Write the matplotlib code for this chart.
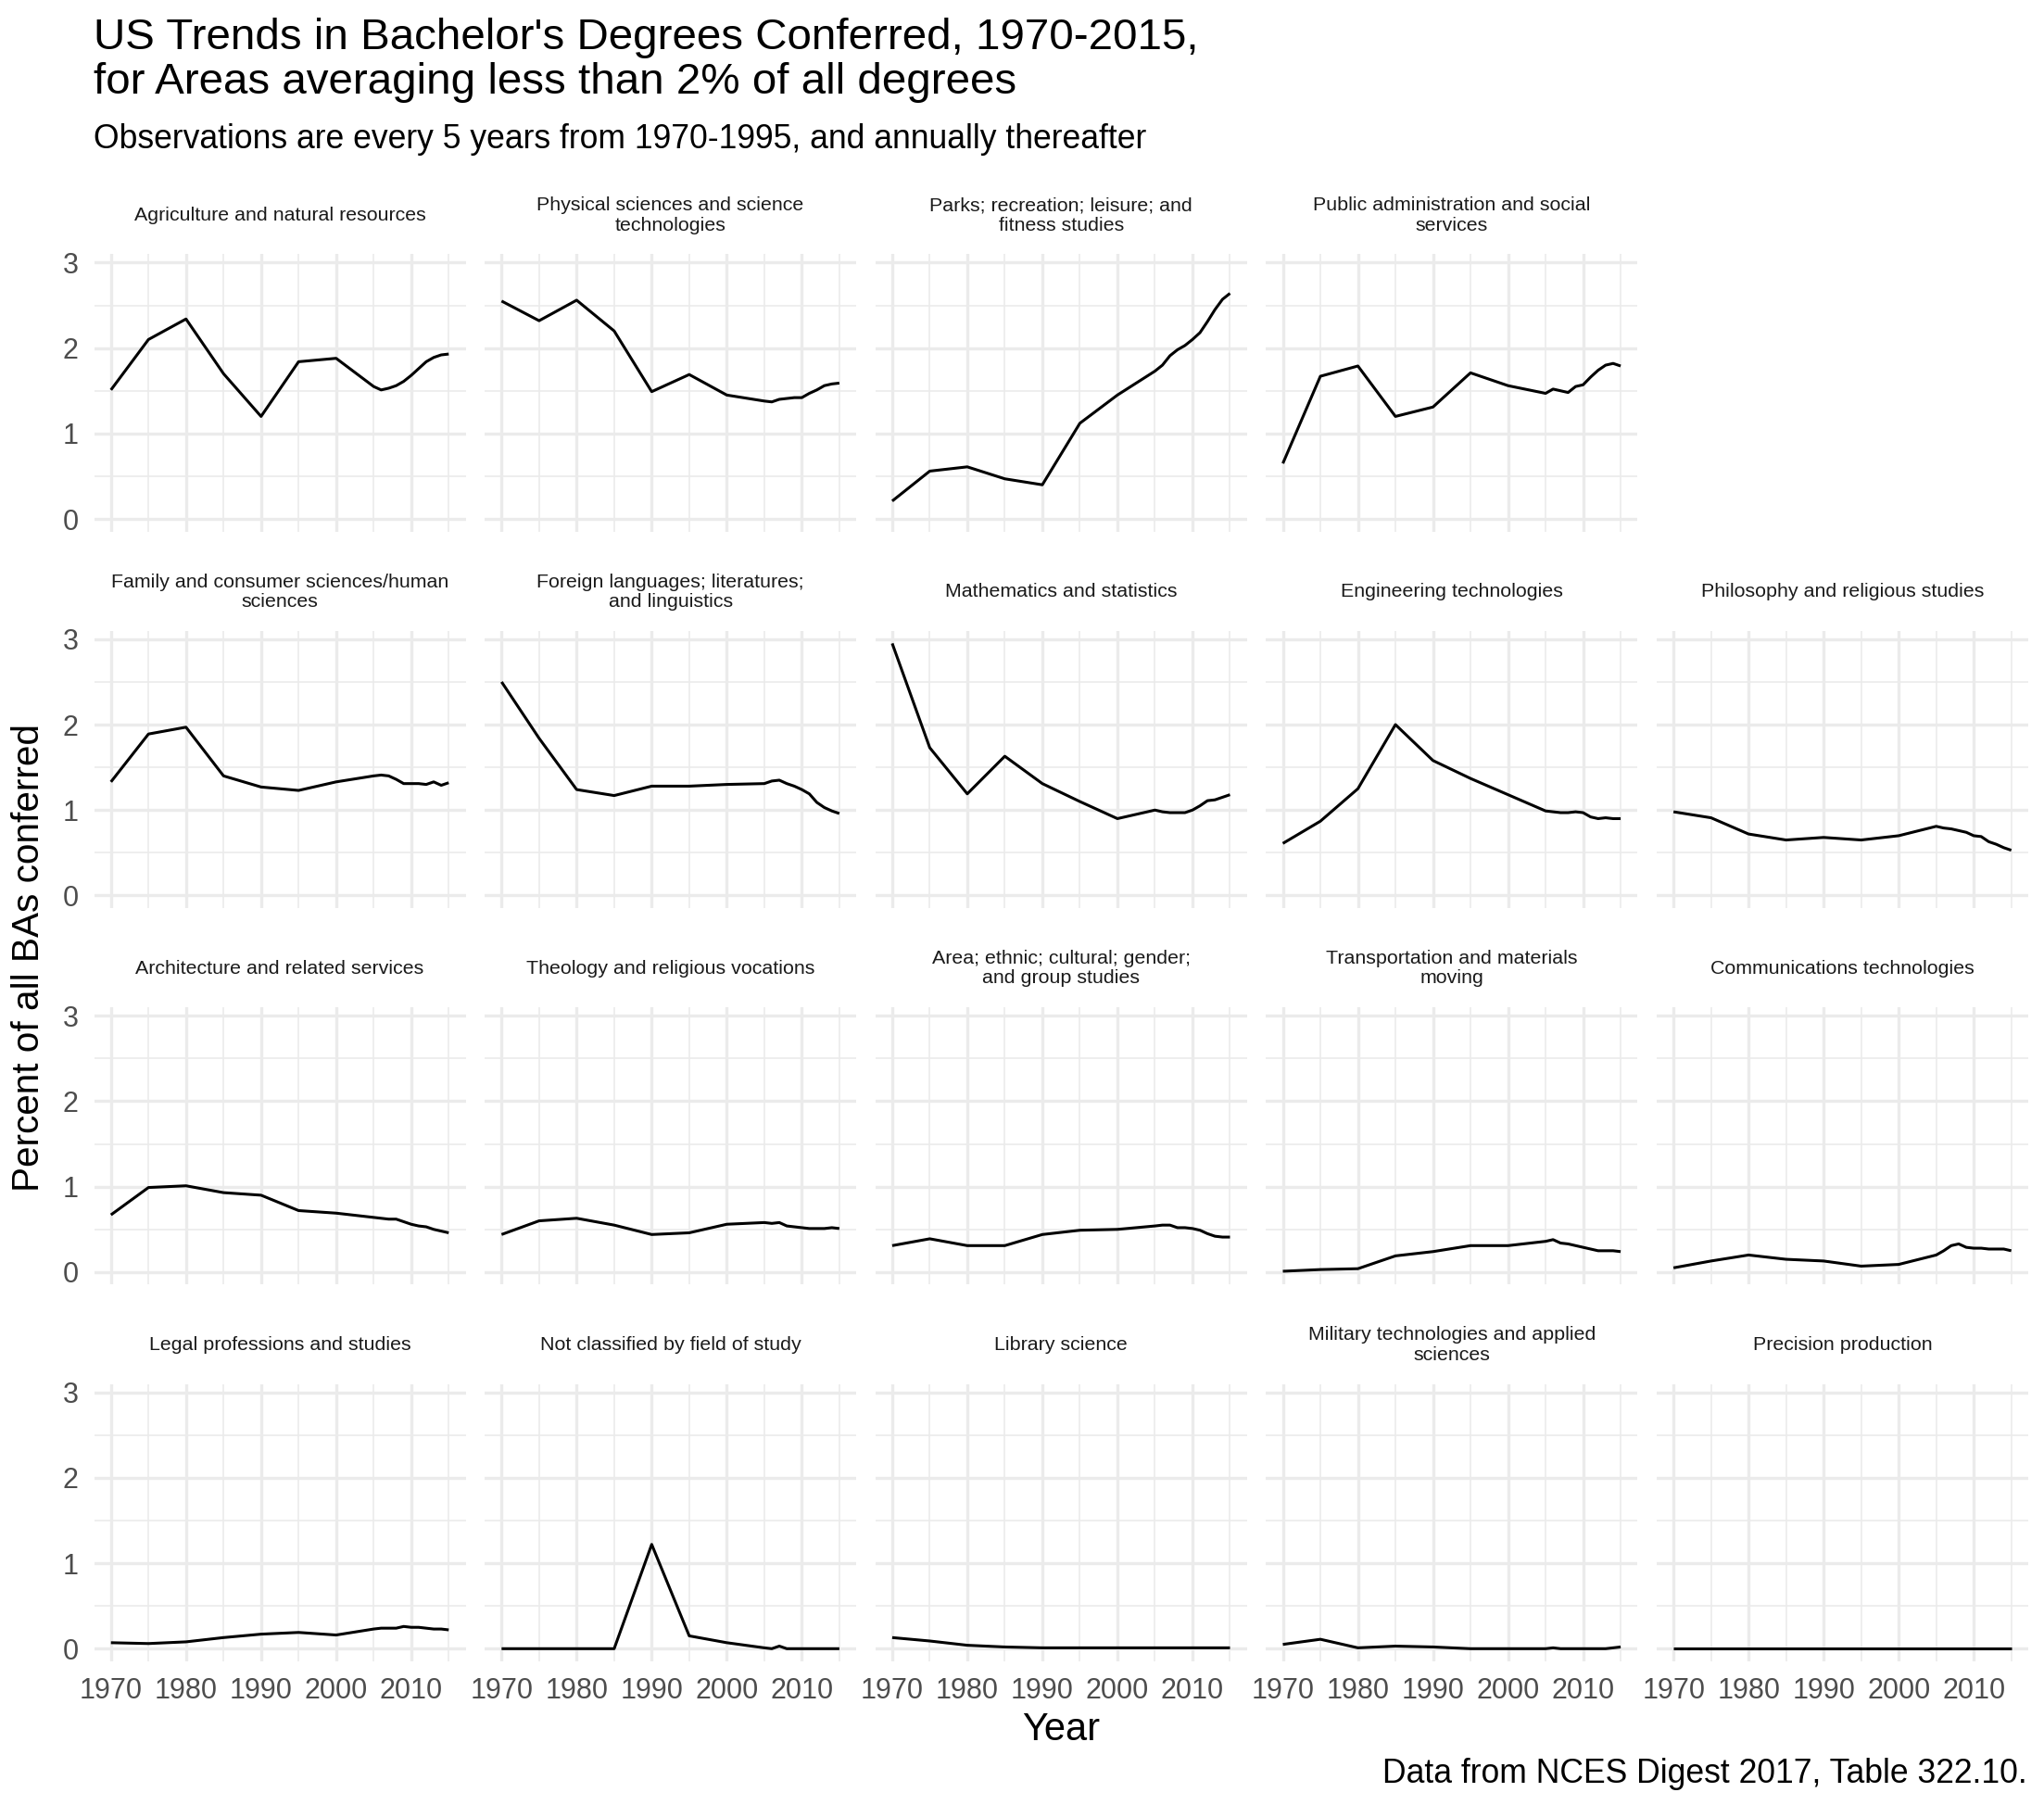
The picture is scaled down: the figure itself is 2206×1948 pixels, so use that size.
import matplotlib.pyplot as plt
from matplotlib.ticker import MultipleLocator

plt.rcParams['font.family'] = ['Liberation Sans', 'DejaVu Sans']

# observation years (5-yearly to 1995, then 2000 and annual from 2005)
years = [1970, 1975, 1980, 1985, 1990, 1995, 2000, 2005, 2006, 2007,
         2008, 2009, 2010, 2011, 2012, 2013, 2014, 2015]

# percent of all bachelor's degrees
agriculture = [1.51, 2.10, 2.34, 1.70, 1.20, 1.84, 1.88, 1.55, 1.51, 1.53,
               1.56, 1.61, 1.68, 1.76, 1.84, 1.89, 1.92, 1.93]
physical_sci = [2.55, 2.32, 2.56, 2.20, 1.49, 1.69, 1.45, 1.38, 1.37, 1.40,
                1.41, 1.42, 1.42, 1.47, 1.51, 1.56, 1.58, 1.59]
parks_rec = [0.21, 0.56, 0.61, 0.47, 0.40, 1.12, 1.45, 1.73, 1.80, 1.91,
             1.98, 2.03, 2.10, 2.18, 2.31, 2.45, 2.57, 2.64]
public_admin = [0.65, 1.67, 1.79, 1.20, 1.31, 1.71, 1.56, 1.47, 1.52, 1.50,
                1.48, 1.55, 1.57, 1.66, 1.74, 1.80, 1.82, 1.79]
family_consumer = [1.33, 1.89, 1.97, 1.40, 1.27, 1.23, 1.33, 1.40, 1.41, 1.40,
                   1.36, 1.31, 1.31, 1.31, 1.30, 1.33, 1.29, 1.32]
foreign_lang = [2.50, 1.84, 1.24, 1.17, 1.28, 1.28, 1.30, 1.31, 1.34, 1.35,
                1.31, 1.28, 1.24, 1.19, 1.09, 1.03, 0.99, 0.96]
math_stats = [2.95, 1.73, 1.19, 1.63, 1.31, 1.10, 0.90, 1.00, 0.98, 0.97,
              0.97, 0.97, 1.00, 1.05, 1.11, 1.12, 1.15, 1.18]
engineering_tech = [0.61, 0.87, 1.25, 2.00, 1.58, 1.37, 1.18, 0.99, 0.98, 0.97,
                    0.97, 0.98, 0.97, 0.92, 0.90, 0.91, 0.90, 0.90]
philosophy = [0.98, 0.91, 0.72, 0.65, 0.68, 0.65, 0.70, 0.81, 0.79, 0.78,
              0.76, 0.74, 0.70, 0.69, 0.63, 0.60, 0.56, 0.53]
architecture = [0.67, 0.99, 1.01, 0.93, 0.90, 0.72, 0.69, 0.64, 0.63, 0.62,
                0.62, 0.59, 0.56, 0.54, 0.53, 0.50, 0.48, 0.46]
theology = [0.44, 0.60, 0.63, 0.55, 0.44, 0.46, 0.56, 0.58, 0.57, 0.58,
            0.54, 0.53, 0.52, 0.51, 0.51, 0.51, 0.52, 0.51]
area_ethnic = [0.31, 0.39, 0.31, 0.31, 0.44, 0.49, 0.50, 0.54, 0.55, 0.55,
               0.52, 0.52, 0.51, 0.49, 0.45, 0.42, 0.41, 0.41]
transportation = [0.01, 0.03, 0.04, 0.19, 0.24, 0.31, 0.31, 0.36, 0.38, 0.34,
                  0.33, 0.31, 0.29, 0.27, 0.25, 0.25, 0.25, 0.24]
comm_tech = [0.05, 0.13, 0.20, 0.15, 0.13, 0.07, 0.09, 0.20, 0.25, 0.31,
             0.33, 0.29, 0.28, 0.28, 0.27, 0.27, 0.27, 0.25]
legal = [0.07, 0.06, 0.08, 0.13, 0.17, 0.19, 0.16, 0.23, 0.24, 0.24,
         0.24, 0.26, 0.25, 0.25, 0.24, 0.23, 0.23, 0.22]
not_classified = [0.00, 0.00, 0.00, 0.00, 1.22, 0.15, 0.07, 0.01, 0.00, 0.03,
                  0.00, 0.00, 0.00, 0.00, 0.00, 0.00, 0.00, 0.00]
library = [0.13, 0.09, 0.04, 0.02, 0.01, 0.01, 0.01, 0.01, 0.01, 0.01,
           0.01, 0.01, 0.01, 0.01, 0.01, 0.01, 0.01, 0.01]
military = [0.05, 0.11, 0.01, 0.03, 0.02, 0.00, 0.00, 0.00, 0.01, 0.00,
            0.00, 0.00, 0.00, 0.00, 0.00, 0.00, 0.01, 0.02]
precision = [0.00, 0.00, 0.00, 0.00, 0.00, 0.00, 0.00, 0.00, 0.00, 0.00,
             0.00, 0.00, 0.00, 0.00, 0.00, 0.00, 0.00, 0.00]

# facet labels and layout, row by row (None = empty slot)
facets = [
    [("Agriculture and natural resources", agriculture),
     ("Physical sciences and science\ntechnologies", physical_sci),
     ("Parks; recreation; leisure; and\nfitness studies", parks_rec),
     ("Public administration and social\nservices", public_admin),
     None],
    [("Family and consumer sciences/human\nsciences", family_consumer),
     ("Foreign languages; literatures;\nand linguistics", foreign_lang),
     ("Mathematics and statistics", math_stats),
     ("Engineering technologies", engineering_tech),
     ("Philosophy and religious studies", philosophy)],
    [("Architecture and related services", architecture),
     ("Theology and religious vocations", theology),
     ("Area; ethnic; cultural; gender;\nand group studies", area_ethnic),
     ("Transportation and materials\nmoving", transportation),
     ("Communications technologies", comm_tech)],
    [("Legal professions and studies", legal),
     ("Not classified by field of study", not_classified),
     ("Library science", library),
     ("Military technologies and applied\nsciences", military),
     ("Precision production", precision)],
]

x_ticks = [1970, 1980, 1990, 2000, 2010]
y_ticks = [0, 1, 2, 3]

W, H = 2206, 1948
fig = plt.figure(figsize=(W / 200, H / 200), dpi=200)

PW, PH = 401, 299.3
GRID = '#EBEBEB'


def panel_rect(row, col):
    left = 101.5 + col * 421.6
    top = 274.4 + row * 406.4
    return [left / W, 1 - (top + PH) / H, PW / W, PH / H]


for r, row in enumerate(facets):
    for c, item in enumerate(row):
        if item is None:
            continue
        label, vals = item
        ax = fig.add_axes(panel_rect(r, c))
        ax.plot(years, vals, color='black', lw=1.1,
                solid_joinstyle='round', solid_capstyle='butt')
        ax.set_xlim(1967.75, 2017.25)
        ax.set_ylim(-0.1475, 3.0975)
        ax.set_xticks(x_ticks)
        ax.set_yticks(y_ticks)
        ax.xaxis.set_minor_locator(MultipleLocator(5))
        ax.yaxis.set_minor_locator(MultipleLocator(0.5))
        ax.grid(which='major', color=GRID, lw=1.2)
        ax.grid(which='minor', color=GRID, lw=0.6)
        ax.set_axisbelow(True)
        for s in ax.spines.values():
            s.set_visible(False)
        ax.tick_params(which='both', length=0, labelsize=11,
                       labelcolor='#4D4D4D', pad=6)
        if c != 0:
            ax.set_yticklabels([])
        if r != len(facets) - 1:
            ax.set_xticklabels([])
        ax.text(0.5, 1 + 42 / PH, label, transform=ax.transAxes,
                ha='center', va='center', fontsize=7.7, linespacing=1.15,
                color='#1A1A1A')

fig.text(101 / W, 1 - 53 / H, "US Trends in Bachelor's Degrees Conferred, 1970-2015,",
         fontsize=17.1, va='baseline', ha='left')
fig.text(101 / W, 1 - 101 / H, "for Areas averaging less than 2% of all degrees",
         fontsize=17.1, va='baseline', ha='left')
fig.text(101 / W, 1 - 160 / H,
         "Observations are every 5 years from 1970-1995, and annually thereafter",
         fontsize=12.8, va='baseline', ha='left')

fig.text(1145 / W, 1 - 1867 / H, "Year", fontsize=15, ha='center', va='center')
fig.text(31 / W, 1 - 1033 / H, "Percent of all BAs conferred", fontsize=14.6,
         rotation=90, ha='center', va='center')
fig.text(2188 / W, 1 - 1915 / H, "Data from NCES Digest 2017, Table 322.10.",
         fontsize=12.8, ha='right', va='center')

fig.savefig('out.png', dpi=200, facecolor='white')
